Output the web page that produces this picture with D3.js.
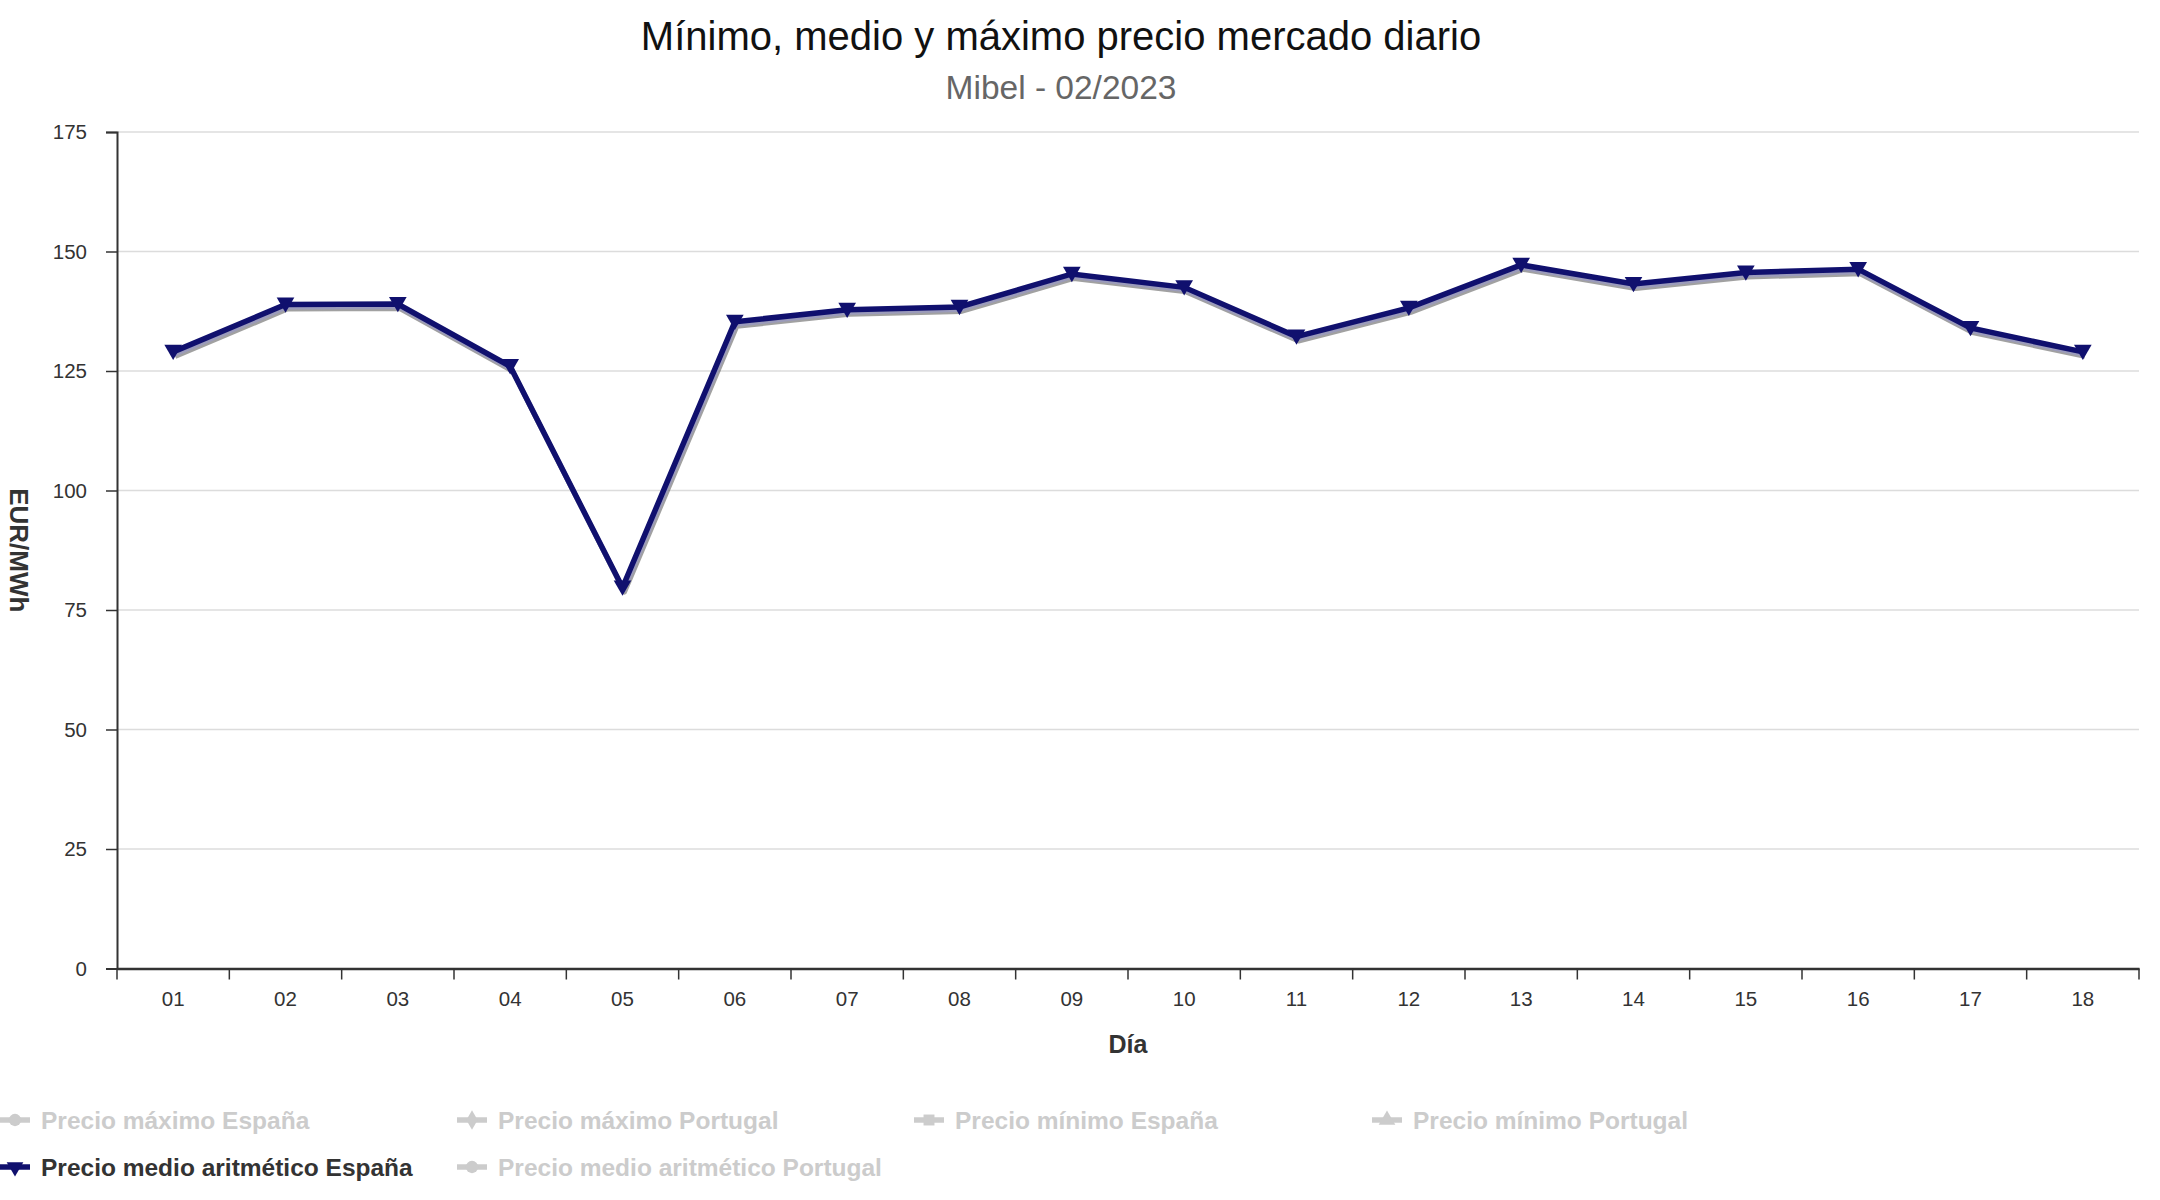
<!DOCTYPE html>
<html>
<head>
<meta charset="utf-8">
<script src="https://cdn.jsdelivr.net/npm/d3@7"></script>
<style>
  html, body { margin: 0; padding: 0; background: #fff; }
  svg { display: block; font-family: "Liberation Sans", Arial, sans-serif; }
</style>
</head>
<body>
<svg id="chart" width="2160" height="1200"></svg>
<script>
// ---- data ----
const titleText = "Mínimo, medio y máximo precio mercado diario";
const subtitleText = "Mibel - 02/2023";
const days = ["01","02","03","04","05","06","07","08","09","10","11","12","13","14","15","16","17","18"];
const mediaEspana = [129.0, 138.9, 139.0, 126.0, 79.7, 135.3, 137.8, 138.4, 145.3, 142.5, 132.2, 138.2, 147.2, 143.2, 145.6, 146.3, 134.0, 129.0];
const yTicks = [0, 25, 50, 75, 100, 125, 150, 175];
const legendNames = ["Precio máximo España", "Precio máximo Portugal", "Precio mínimo España", "Precio mínimo Portugal", "Precio medio aritmético España", "Precio medio aritmético Portugal"];
const legendSymbols = ["circle", "diamond", "square", "triangle", "triangleDown", "circle"];
const legendActive = [false, false, false, false, true, false];

(function () {
// ---- layout ----
const svg = d3.select("#chart");
const pLeft = 117, pRight = 2139, pTop = 132, pBottom = 968.5;
const navy = "#10106e";

const x = d3.scaleBand().domain(days).range([pLeft, pRight]).padding(0);
const y = d3.scaleLinear().domain([0, 175]).range([pBottom, pTop]);

// titles
svg.append("text").attr("x", 1061).attr("y", 50).attr("text-anchor", "middle")
  .attr("font-size", 40).attr("fill", "#111").text(titleText);
svg.append("text").attr("x", 1061).attr("y", 99).attr("text-anchor", "middle")
  .attr("font-size", 33.5).attr("fill", "#666").text(subtitleText);

// grid lines
svg.append("g").selectAll("line").data(yTicks.filter(d => d > 0)).join("line")
  .attr("x1", pLeft).attr("x2", pRight)
  .attr("y1", d => y(d)).attr("y2", d => y(d))
  .attr("stroke", "#dcdcdc").attr("stroke-width", 1.5);

// y axis
const yAxis = svg.append("g").attr("transform", `translate(${pLeft},0)`)
  .call(d3.axisLeft(y).tickValues(yTicks).tickSize(11).tickPadding(19));
yAxis.select(".domain").attr("stroke", "#333").attr("stroke-width", 2);
yAxis.selectAll(".tick line").attr("stroke", "#333").attr("stroke-width", 1.5);
yAxis.selectAll(".tick text").attr("font-size", 20.5).attr("fill", "#333")
  .attr("font-family", "Liberation Sans, Arial, sans-serif");

// x axis (labels centered in bands, ticks on band boundaries)
const xAxis = svg.append("g").attr("transform", `translate(0,${pBottom})`)
  .call(d3.axisBottom(x).tickSize(0).tickPadding(23));
xAxis.select(".domain").attr("stroke", "#333").attr("stroke-width", 2.5);
xAxis.selectAll(".tick text").attr("font-size", 20.5).attr("fill", "#333")
  .attr("font-family", "Liberation Sans, Arial, sans-serif");
const boundaries = days.map(d => x(d)).concat([x.range()[1]]);
svg.append("g").selectAll("line").data(boundaries).join("line")
  .attr("x1", d => d).attr("x2", d => d)
  .attr("y1", pBottom).attr("y2", pBottom + 11)
  .attr("stroke", "#333").attr("stroke-width", 1.5);

// axis titles
svg.append("text").attr("x", (pLeft + pRight) / 2).attr("y", 1053).attr("text-anchor", "middle")
  .attr("font-size", 25).attr("font-weight", "bold").attr("fill", "#333").text("Día");
svg.append("text").attr("transform", `translate(10,${(pTop + pBottom) / 2}) rotate(90)`)
  .attr("text-anchor", "middle").attr("font-size", 26).attr("font-weight", "bold")
  .attr("fill", "#333").text("EUR/MWh");

// series line
const pts = days.map((d, i) => [x(d) + x.bandwidth() / 2, y(mediaEspana[i])]);
const line = d3.line();
svg.append("path").attr("d", line(pts)).attr("transform", "translate(2,4.5)")
  .attr("fill", "none").attr("stroke", "#444").attr("stroke-opacity", 0.5)
  .attr("stroke-width", 5).attr("stroke-linejoin", "round");
svg.append("path").attr("d", line(pts)).attr("transform", "translate(1,2.5)")
  .attr("fill", "none").attr("stroke", "#9a9ac0").attr("stroke-opacity", 0.85)
  .attr("stroke-width", 5).attr("stroke-linejoin", "round");
svg.append("path").attr("d", line(pts))
  .attr("fill", "none").attr("stroke", navy).attr("stroke-width", 5.5)
  .attr("stroke-linejoin", "miter");

const triDown = d3.symbol().type(d3.symbolTriangle).size(135);
svg.append("g").selectAll("path").data(pts).join("path")
  .attr("d", triDown())
  .attr("transform", p => `translate(${p[0]},${p[1] - 2}) rotate(180)`)
  .attr("fill", navy);

// legend
const colX = [0, 457, 914, 1372];
const rowY = [1120, 1167];
const symMap = {
  circle: d3.symbol().type(d3.symbolCircle).size(120)(),
  diamond: d3.symbol().type(d3.symbolDiamond).size(110)(),
  square: d3.symbol().type(d3.symbolSquare).size(120)(),
  triangle: d3.symbol().type(d3.symbolTriangle).size(120)(),
  triangleDown: d3.symbol().type(d3.symbolTriangle).size(120)()
};
const leg = svg.append("g").selectAll("g").data(legendNames).join("g")
  .attr("transform", (d, i) => `translate(${colX[i % 4]},${rowY[Math.floor(i / 4)]})`);
leg.append("line").attr("x1", 0).attr("x2", 30).attr("y1", 0).attr("y2", 0)
  .attr("stroke", (d, i) => legendActive[i] ? navy : "#cccccc").attr("stroke-width", 5.5);
leg.append("path").attr("d", (d, i) => symMap[legendSymbols[i]])
  .attr("transform", (d, i) => `translate(15,0)` + (legendSymbols[i] === "triangleDown" ? " rotate(180)" : ""))
  .attr("fill", (d, i) => legendActive[i] ? navy : "#cccccc");
leg.append("text").attr("x", 41).attr("y", 8.5).attr("font-size", 24.5).attr("font-weight", "bold")
  .attr("fill", (d, i) => legendActive[i] ? "#333" : "#cccccc").text(d => d);
})();
</script>
</body>
</html>
